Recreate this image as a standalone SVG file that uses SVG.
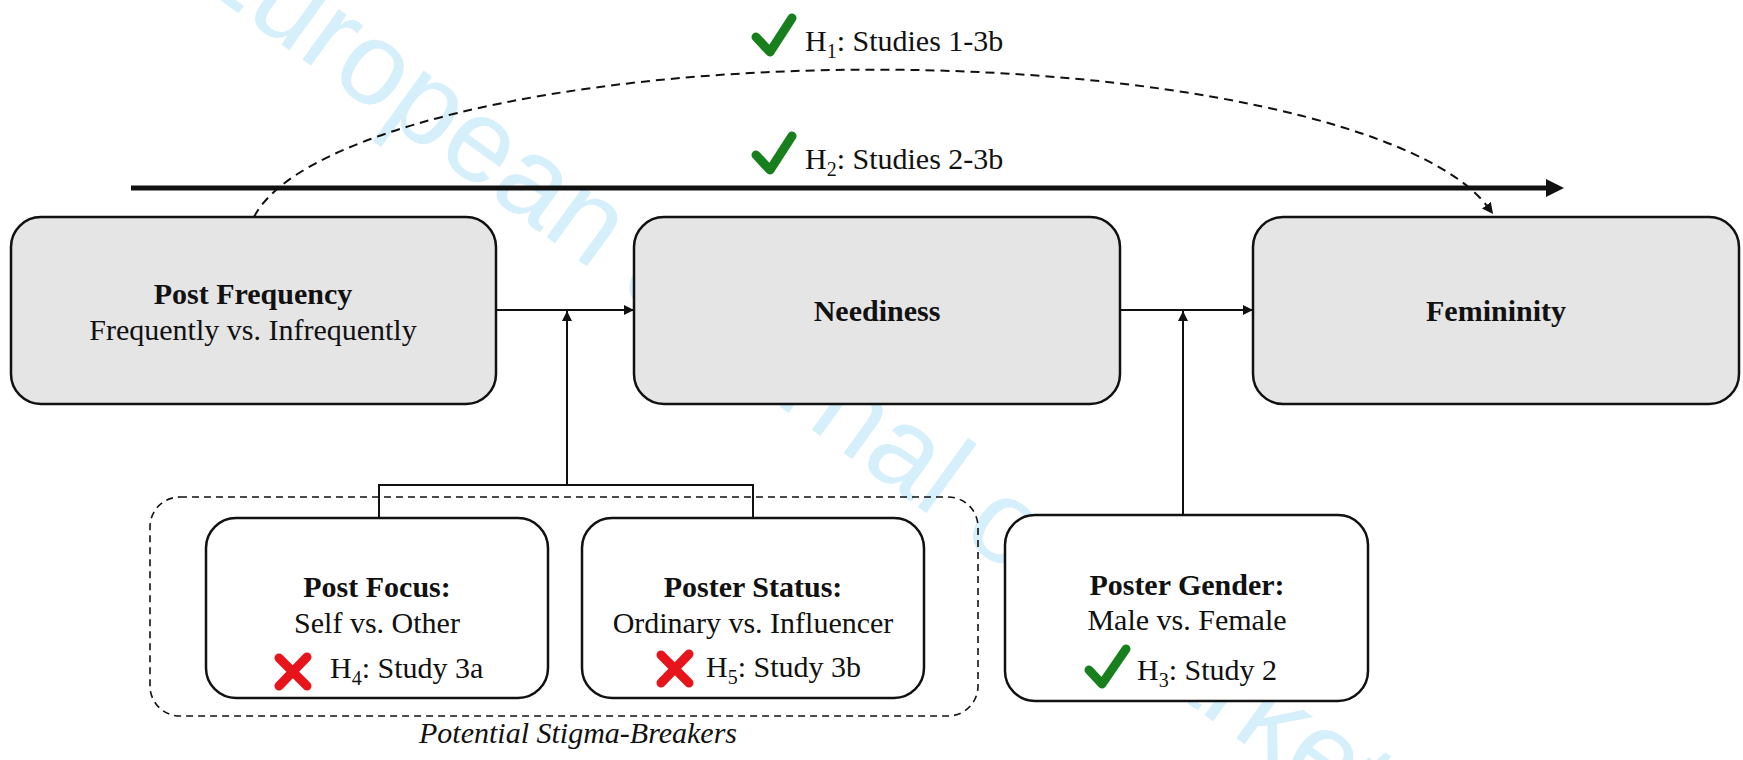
<svg xmlns="http://www.w3.org/2000/svg" width="1743" height="760" viewBox="0 0 1743 760">
<defs>
<style>
.main{fill:#e5e5e5;stroke:#111;stroke-width:2.5}
.mod{fill:#fff;stroke:#111;stroke-width:2.5}
.t{font-family:"Liberation Serif","Times New Roman",serif;font-size:30px;fill:#111;text-anchor:middle}
.b{font-weight:bold}
.lbl{font-family:"Liberation Serif","Times New Roman",serif;font-size:30px;fill:#111}
.sub{font-size:20px}
.ln{fill:none;stroke:#111;stroke-width:2}
.chk{fill:none;stroke:#17801c;stroke-width:9;stroke-linecap:round;stroke-linejoin:round}
.xx{fill:none;stroke:#e8141c;stroke-width:9;stroke-linecap:round}
.wm{font-family:"Liberation Sans",Arial,sans-serif;font-size:118px;fill:#d5effb}
</style>
<marker id="ah" markerUnits="userSpaceOnUse" markerWidth="12" markerHeight="12" refX="10" refY="5" orient="auto">
<path d="M0,0 L10,5 L0,10 z" fill="#111"/>
</marker>
<marker id="ahd" markerUnits="userSpaceOnUse" markerWidth="12" markerHeight="12" refX="1" refY="5.5" orient="auto">
<path d="M0,0 L11,5.5 L0,11 z" fill="#111"/>
</marker>
</defs>
<rect width="1743" height="760" fill="#fff"/>
<g id="watermark">
<text class="wm" transform="translate(179,-30) rotate(36)">European Journal of Marketing</text>
</g>
<g id="connectors">
<path class="ln" d="M254,217 A626,171 0 0 1 1487,206" stroke-dasharray="9,6" marker-end="url(#ahd)"/>
<line x1="131" y1="188" x2="1548" y2="188" stroke="#111" stroke-width="5"/>
<path d="M1546,179 L1564,188 L1546,197 z" fill="#111"/>
<line class="ln" x1="496" y1="310" x2="634" y2="310" marker-end="url(#ah)"/>
<line class="ln" x1="1120" y1="310" x2="1253" y2="310" marker-end="url(#ah)"/>
<line class="ln" x1="567" y1="485" x2="567" y2="311" marker-end="url(#ah)"/>
<line class="ln" x1="1183" y1="515" x2="1183" y2="311" marker-end="url(#ah)"/>
<path class="ln" d="M379,518 V485 H753 V518"/>
<rect x="150" y="497" width="828" height="219" rx="30" fill="none" stroke="#111" stroke-width="1.6" stroke-dasharray="7,5"/>
</g>
<g id="labels">
<path class="chk" d="M756,37 L770,52 L792,18"/>
<text class="lbl" x="805" y="51">H<tspan class="sub" dy="7">1</tspan><tspan dy="-7">: Studies 1-3b</tspan></text>
<path class="chk" d="M756,155 L770,170 L792,136"/>
<text class="lbl" x="805" y="169">H<tspan class="sub" dy="7">2</tspan><tspan dy="-7">: Studies 2-3b</tspan></text>
<text class="t" x="578" y="743" font-style="italic">Potential Stigma-Breakers</text>
</g>
<g id="post-frequency">
<rect class="main" x="11" y="217" width="485" height="187" rx="30"/>
<text class="t b" x="253" y="304">Post Frequency</text>
<text class="t" x="253" y="340">Frequently vs. Infrequently</text>
</g>
<g id="neediness">
<rect class="main" x="634" y="217" width="486" height="187" rx="30"/>
<text class="t b" x="877" y="321">Neediness</text>
</g>
<g id="femininity">
<rect class="main" x="1253" y="217" width="486" height="187" rx="30"/>
<text class="t b" x="1496" y="321">Femininity</text>
</g>
<g id="post-focus">
<rect class="mod" x="206" y="518" width="342" height="180" rx="30"/>
<text class="t b" x="377" y="597">Post Focus:</text>
<text class="t" x="377" y="633">Self vs. Other</text>
<path class="xx" d="M279,658 L307,686 M307,657 L279,686"/>
<text class="lbl" x="330" y="678">H<tspan class="sub" dy="7">4</tspan><tspan dy="-7">: Study 3a</tspan></text>
</g>
<g id="poster-status">
<rect class="mod" x="582" y="518" width="342" height="180" rx="30"/>
<text class="t b" x="753" y="597">Poster Status:</text>
<text class="t" x="753" y="633">Ordinary vs. Influencer</text>
<path class="xx" d="M661,655 L689,683 M689,654 L661,683"/>
<text class="lbl" x="706" y="677">H<tspan class="sub" dy="7">5</tspan><tspan dy="-7">: Study 3b</tspan></text>
</g>
<g id="poster-gender">
<rect class="mod" x="1005" y="515" width="363" height="186" rx="30"/>
<text class="t b" x="1187" y="595">Poster Gender:</text>
<text class="t" x="1187" y="630">Male vs. Female</text>
<path class="chk" d="M1089,670 L1102,684 L1126,649"/>
<text class="lbl" x="1137" y="680">H<tspan class="sub" dy="7">3</tspan><tspan dy="-7">: Study 2</tspan></text>
</g>
</svg>
